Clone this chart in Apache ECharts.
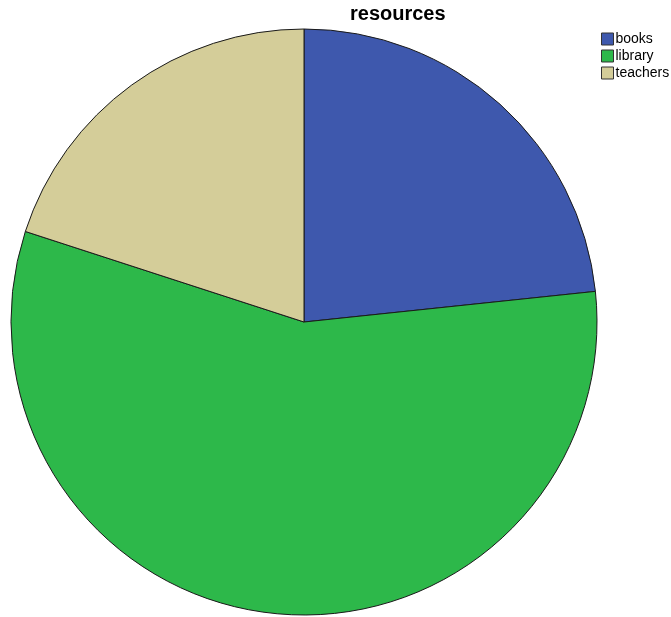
<!DOCTYPE html>
<html>
<head>
<meta charset="utf-8">
<script src="https://cdn.jsdelivr.net/npm/echarts@6/dist/echarts.min.js"></script>
<style>
  html, body { margin: 0; padding: 0; background: #fff; }
  #chart { width: 671px; height: 617px; }
</style>
</head>
<body>
<div id="chart"></div>
<script>
// Resource categories and their counts
const categories = ['books', 'library', 'teachers'];
const counts = [7, 17, 6];
const colors = ['#3e58ad', '#2db84a', '#d4cd99'];

const chart = echarts.init(document.getElementById('chart'), null, { renderer: 'canvas' });

chart.setOption({
  animation: false,
  backgroundColor: '#ffffff',
  title: {
    text: 'resources',
    left: 350,
    top: 4,
    padding: 0,
    textStyle: {
      fontFamily: 'Liberation Sans, Arial, sans-serif',
      fontSize: 20,
      fontWeight: 'bold',
      color: '#000'
    }
  },
  legend: {
    orient: 'vertical',
    left: 601,
    top: 32,
    padding: 0,
    itemWidth: 12,
    itemHeight: 12,
    itemGap: 3,
    icon: 'rect',
    itemStyle: { borderColor: '#333', borderWidth: 1 },
    textStyle: {
      fontFamily: 'Liberation Sans, Arial, sans-serif',
      fontSize: 14,
      lineHeight: 14,
      color: '#000',
      padding: [0, 0, 0, -3]
    },
    data: categories
  },
  series: [{
    type: 'pie',
    center: [304, 322],
    radius: 293,
    startAngle: 90,
    clockwise: true,
    label: { show: false },
    labelLine: { show: false },
    emphasis: { disabled: true },
    itemStyle: { borderColor: '#1a1a1a', borderWidth: 1 },
    data: categories.map((name, i) => ({
      name,
      value: counts[i],
      itemStyle: { color: colors[i] }
    }))
  }]
});
</script>
</body>
</html>
